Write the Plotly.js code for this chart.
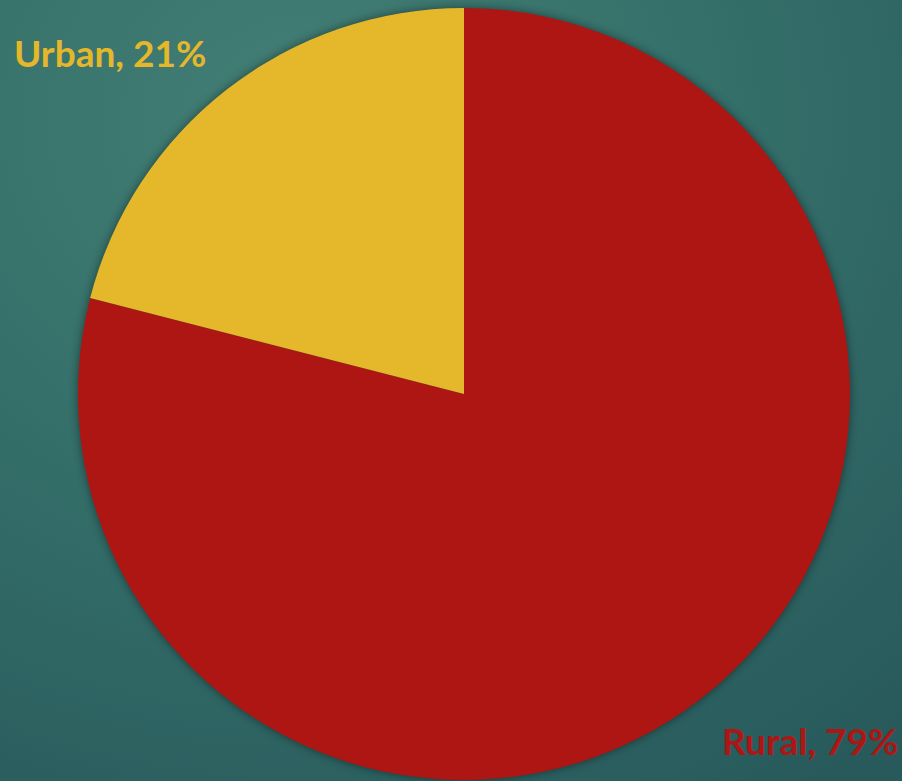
<!DOCTYPE html>
<html>
<head>
<meta charset="utf-8">
<script src="https://cdn.plot.ly/plotly-3.0.1.min.js"></script>
<style>
  html, body { margin: 0; padding: 0; width: 902px; height: 781px; overflow: hidden; }
  body { background: radial-gradient(ellipse 900px 800px at 300px 120px, #437f75 0%, #35706a 45%, #285a5c 100%); }
  #chart { width: 902px; height: 781px; }
  .pielayer { filter: drop-shadow(0 0 5px rgba(0,0,0,0.45)); }
</style>
</head>
<body>
<div id="chart"></div>
<script>
const labels = ["Rural", "Urban"];
const values = [79, 21];
const colors = ["#ae1614", "#e5b72a"];

const W = 902, H = 781;
const cx = 464, cy = 394, r = 386;

const data = [{
  type: "pie",
  labels: labels,
  values: values,
  sort: false,
  direction: "clockwise",
  rotation: 0,
  textinfo: "none",
  hoverinfo: "label+percent",
  marker: { colors: colors, line: { width: 0 } },
  domain: {
    x: [(cx - r) / W, (cx + r) / W],
    y: [(H - cy - r) / H, (H - cy + r) / H]
  },
  showlegend: false
}];

const total = values.reduce((a, b) => a + b, 0);
const pct = values.map(v => Math.round(v / total * 100) + "%");

const annotations = [
  {
    text: "<b>" + labels[1] + ", " + pct[1] + "</b>",
    xref: "paper", yref: "paper",
    x: 12 / W, y: 1 - 52 / H,
    xanchor: "left", yanchor: "middle",
    showarrow: false,
    font: { family: "Lato, 'DejaVu Sans', sans-serif", size: 37, color: colors[1] }
  },
  {
    text: "<b>" + labels[0] + ", " + pct[0] + "</b>",
    xref: "paper", yref: "paper",
    x: 900 / W, y: 1 - 740 / H,
    xanchor: "right", yanchor: "middle",
    showarrow: false,
    font: { family: "Lato, 'DejaVu Sans', sans-serif", size: 37, color: colors[0] }
  }
];

const layout = {
  width: W, height: H,
  margin: { l: 0, r: 0, t: 0, b: 0 },
  paper_bgcolor: "rgba(0,0,0,0)",
  plot_bgcolor: "rgba(0,0,0,0)",
  annotations: annotations
};

Plotly.newPlot("chart", data, layout, { displayModeBar: false, staticPlot: true });
</script>
</body>
</html>
